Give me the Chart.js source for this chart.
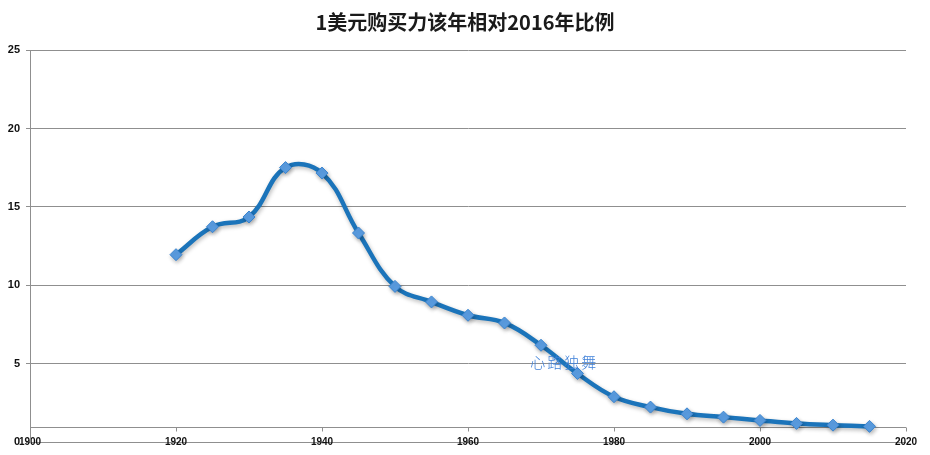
<!DOCTYPE html>
<html><head><meta charset="utf-8">
<script src="https://cdn.jsdelivr.net/npm/chart.js@4/dist/chart.umd.min.js"></script>
<style>html,body{margin:0;padding:0;background:#fff}#wrap{width:930px;height:455px;position:relative}</style>
</head><body><div id="wrap"><canvas id="c"></canvas></div>
<script>
const titleText = '1美元购买力该年相对2016年比例';
const years  = [1920,1925,1930,1935,1940,1945,1950,1955,1960,1965,1970,1975,1980,1985,1990,1995,2000,2005,2010,2015];
const values = [11.96,13.74,14.36,17.51,17.16,13.34,9.94,8.95,8.10,7.61,6.19,4.39,2.91,2.25,1.82,1.61,1.40,1.21,1.10,1.02];
const xTicks = [1900,1920,1940,1960,1980,2000,2020];
const yTicks = [0,5,10,15,20,25];
const axisCrossValue = 1;
const watermarkText = '心路独舞';
const watermarkAt = [1973.2, 5.1];

const gridColor = '#8f8f8f';
const xFont = {family:"'Liberation Sans',Arial,sans-serif", size:10, weight:'bold', lineHeight:1.2};
const yFont = {family:"'Liberation Sans',Arial,sans-serif", size:11, weight:'bold'};

const crossAxisPlugin = {
  id:'crossAxis',
  beforeDatasetsDraw(chart){
    const {ctx, scales:{x,y}} = chart;
    const py = Math.round(y.getPixelForValue(axisCrossValue)) + 0.5;
    ctx.save();
    ctx.strokeStyle = gridColor;
    ctx.lineWidth = 1;
    ctx.beginPath();
    ctx.moveTo(x.left, py);
    ctx.lineTo(x.right, py);
    xTicks.forEach(v => {
      const px = Math.round(x.getPixelForValue(v)) + 0.5;
      ctx.moveTo(px, py);
      ctx.lineTo(px, py + 4);
    });
    ctx.stroke();
    ctx.restore();
  },
  afterDatasetsDraw(chart){
    const {ctx, scales:{x,y}} = chart;
    ctx.save();
    ctx.fillStyle = '#3f80d8';
    ctx.font = "300 15px 'Noto Sans CJK SC'";
    ctx.letterSpacing = '2px';
    ctx.textAlign = 'center';
    ctx.textBaseline = 'middle';
    ctx.fillText(watermarkText, x.getPixelForValue(watermarkAt[0]), y.getPixelForValue(watermarkAt[1]));
    ctx.restore();
  }
};

const shadowPlugin = {
  id:'shadow',
  beforeDatasetDraw(chart){
    const ctx = chart.ctx;
    ctx.save();
    ctx.shadowColor = 'rgba(0,0,0,0.28)';
    ctx.shadowBlur = 4;
    ctx.shadowOffsetX = 1;
    ctx.shadowOffsetY = 2;
  },
  afterDatasetDraw(chart){ chart.ctx.restore(); }
};

new Chart(document.getElementById('c'), {
  type:'line',
  data:{
    datasets:[{
      data: years.map((yr,i)=>({x:yr, y:values[i]})),
      borderColor:'#1b74ba',
      borderWidth:4.5,
      tension:0.4,
      fill:false,
      pointStyle:'rectRot',
      pointRadius:6,
      pointBackgroundColor:'#5b9ee3',
      pointBorderColor:'#3a84cf',
      pointBorderWidth:1
    }]
  },
  options:{
    responsive:true,
    maintainAspectRatio:false,
    animation:false,
    layout:{padding:{left:0,right:0,top:0,bottom:0}},
    plugins:{
      legend:{display:false},
      tooltip:{enabled:false},
      title:{
        display:true,
        text:titleText,
        color:'#1a1a1a',
        font:{family:"'Noto Sans CJK SC',sans-serif", size:20, weight:'bold', lineHeight:1.2},
        padding:{top:10,bottom:16}
      }
    },
    scales:{
      x:{
        type:'linear',
        min:1900, max:2020,
        afterBuildTicks(s){ s.ticks = xTicks.map(v=>({value:v})); },
        afterFit(s){ s.height = 12; },
        grid:{display:false, drawTicks:false},
        border:{display:false},
        ticks:{color:'#111', font:xFont, mirror:true, padding:-6, maxRotation:0, autoSkip:false, callback:v=>String(v)}
      },
      y:{
        min:0, max:25,
        afterBuildTicks(s){ s.ticks = yTicks.map(v=>({value:v})); },
        afterFit(s){ s.width = 30; },
        grid:{color:gridColor, lineWidth:1, tickLength:4, drawTicks:true},
        border:{display:true, color:gridColor, width:1},
        ticks:{color:'#111', font:yFont, padding:6, callback:v=>String(v)}
      },
      yRight:{
        position:'right',
        display:true,
        afterFit(s){ s.width = 24; },
        grid:{display:false, drawTicks:false},
        border:{display:false},
        ticks:{display:false}
      }
    }
  },
  plugins:[crossAxisPlugin, shadowPlugin]
});
</script>
</body></html>
